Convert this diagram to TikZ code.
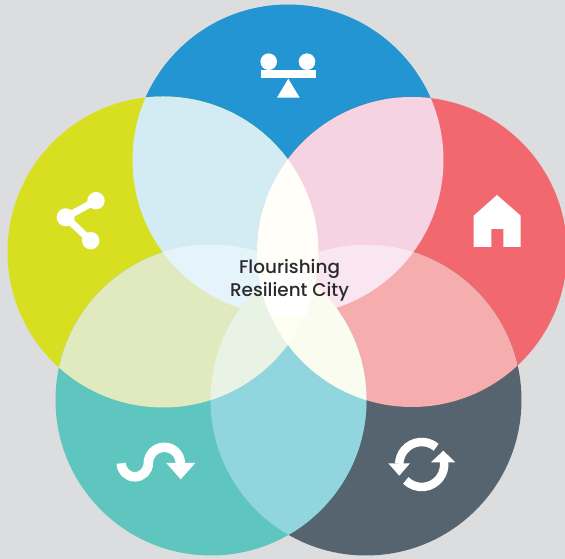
\documentclass[tikz,border=0pt]{standalone}
\usepackage{fontspec}
\setmainfont{Poppins}
\newfontfamily\titlefont{Poppins Medium}
\definecolor{bgc}{HTML}{DCDDDF}
\definecolor{cB}{HTML}{2295D2}
\definecolor{cY}{HTML}{D8DF21}
\definecolor{cR}{HTML}{F1696F}
\definecolor{cD}{HTML}{56646F}
\definecolor{cT}{HTML}{5EC6BE}
\definecolor{cBY}{HTML}{D3ECF4}
\definecolor{cBR}{HTML}{F6D3E2}
\definecolor{cRD}{HTML}{F5ADAE}
\definecolor{cDT}{HTML}{91D5DE}
\definecolor{cTY}{HTML}{E1EABF}
\definecolor{cBYT}{HTML}{E5F4FA}
\definecolor{cBRD}{HTML}{FAE6F0}
\definecolor{cBYR}{HTML}{FFFEF8}
\definecolor{cYTD}{HTML}{E8F3E6}
\definecolor{cRTD}{HTML}{FBFCF0}
\definecolor{cYRTD}{HTML}{FEFEF2}
\definecolor{cTxt}{HTML}{2B2A2C}
% coordinates: reference pixels, y upward from the bottom
\tikzset{x=1pt,y=1pt,
  iconline/.style={draw=white,line width=7pt},
  iconwave/.style={draw=white,line width=9.5pt},
  iconring/.style={draw=white,line width=8.5pt},
  iconfill/.style={fill=white,draw=none}}
\def\rr{155.5}
\def\cirB{(288,399) circle (\rr)}
\def\cirY{(163,307) circle (\rr)}
\def\cirR{(412,307) circle (155)}
\def\cirD{(366,159) circle (\rr)}
\def\cirT{(211,159) circle (\rr)}
\begin{document}
\begin{tikzpicture}
\useasboundingbox (0,0) rectangle (565,559);
\clip (0,0) rectangle (565,559);
\fill[bgc] (0,0) rectangle (565,559);
\fill[cB] \cirB; \fill[cY] \cirY; \fill[cR] \cirR; \fill[cD] \cirD; \fill[cT] \cirT;
% two circles
\begin{scope}\clip \cirB; \fill[cBY] \cirY; \end{scope}
\begin{scope}\clip \cirB; \fill[cBR] \cirR; \end{scope}
\begin{scope}\clip \cirR; \fill[cRD] \cirD; \end{scope}
\begin{scope}\clip \cirD; \fill[cDT] \cirT; \end{scope}
\begin{scope}\clip \cirT; \fill[cTY] \cirY; \end{scope}
% three circles
\begin{scope}\clip \cirB; \clip \cirY; \fill[cBYT] \cirT; \end{scope}
\begin{scope}\clip \cirB; \clip \cirR; \fill[cBRD] \cirD; \end{scope}
\begin{scope}\clip \cirY; \clip \cirR; \fill[cBYR] \cirB; \end{scope}
\begin{scope}\clip \cirY; \clip \cirT; \fill[cYTD] \cirD; \end{scope}
\begin{scope}\clip \cirR; \clip \cirD; \fill[cRTD] \cirT; \end{scope}
% four and five circles
\begin{scope}\clip \cirY; \clip \cirR; \clip \cirT; \fill[cYRTD] \cirD; \end{scope}
\begin{scope}\clip \cirB; \clip \cirT; \clip \cirD; \clip \cirY; \fill[white] \cirR; \end{scope}
% balance icon
\fill[iconfill] (268.7,497.3) circle (8.3);
\fill[iconfill] (307,497.3) circle (8.3);
\fill[iconfill] (261,481) rectangle (316,489);
\fill[iconfill] (288.3,480.3) -- (277,461.3) -- (299.7,461.3) -- cycle;
% share icon
\draw[iconline] (96,358.3) -- (65.7,341.7) -- (90.7,318.3);
\fill[iconfill] (96,358.3) circle (8.7);
\fill[iconfill] (65.7,341.7) circle (9);
\fill[iconfill] (90.7,318.3) circle (8.7);
% house icon
\fill[iconfill] (497,364) -- (520.7,343.3) -- (520.7,312) -- (503.3,312) -- (503.3,330)
  -- (491.3,330) -- (491.3,312) -- (473.7,312) -- (473.7,343.3) -- cycle;
% wave icon
\draw[iconwave] (121.3,95.7) arc[start angle=180,end angle=360,radius=13.5]
  arc[start angle=180,end angle=0,radius=16];
\fill[iconfill] (166.3,96) -- (195.3,96) -- (180.7,79.7) -- cycle;
% sync icon
\draw[iconring] (421.7,94.5) ++(50:22.5) arc[start angle=50,end angle=178,radius=22.5];
\draw[iconring] (421.7,94.5) ++(7:22.5) arc[start angle=7,end angle=-135,radius=22.5];
\fill[iconfill] (388.3,95.7) -- (410,95.7) -- (399.3,83.3) -- cycle;
\fill[iconfill] (443.3,108.3) -- (431,96.7) -- (455.3,96.7) -- cycle;
% text
\node[text=cTxt,font=\titlefont\fontsize{18.4}{22.7}\selectfont,align=center] (title) at (289.5,279) {Flourishing\\Resilient City};
\end{tikzpicture}
\end{document}
